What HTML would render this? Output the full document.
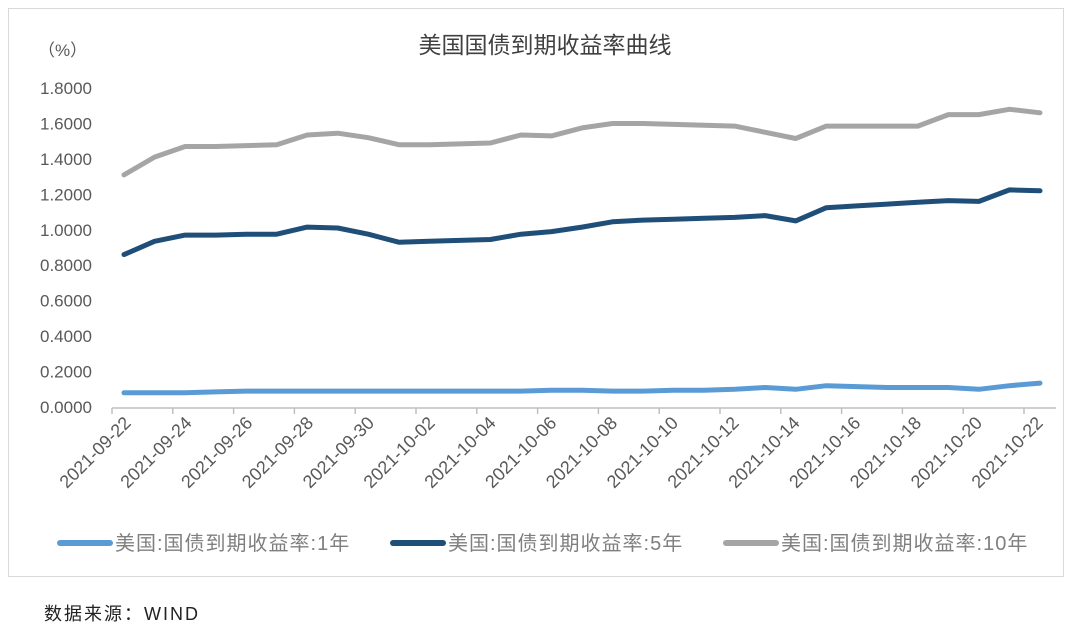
<!DOCTYPE html>
<html><head><meta charset="utf-8"><style>
body{margin:0;background:#fff;}
svg text{font-family:"Liberation Sans","Noto Sans CJK SC",sans-serif;}
</style></head><body>
<svg width="1080" height="627" viewBox="0 0 1080 627" xmlns="http://www.w3.org/2000/svg">
<rect x="8.5" y="8.5" width="1055" height="568" fill="#fff" stroke="#d9d9d9" stroke-width="1"/>
<text x="545" y="53" text-anchor="middle" font-size="23" fill="#404040" font-family="Noto Serif CJK SC, serif">美国国债到期收益率曲线</text>
<text x="38" y="56" font-size="17" fill="#595959">（%）</text>
<g font-size="17" fill="#595959" text-anchor="end" id="yl"></g>
<line x1="112" y1="408" x2="1056" y2="408" stroke="#bfbfbf" stroke-width="1.5"/>
<g id="ticks" stroke="#bfbfbf" stroke-width="1.5"></g>
<g id="xl" font-size="18" fill="#595959" text-anchor="end"></g>
<g id="lines" fill="none" stroke-width="5" stroke-linejoin="round" stroke-linecap="round"></g>
<g font-size="20" fill="#7f7f7f" letter-spacing="1" font-family="Noto Serif CJK SC, serif">
<line x1="60" y1="543" x2="110" y2="543" stroke="#5b9bd5" stroke-width="6" stroke-linecap="round"/>
<text x="115" y="550">美国:国债到期收益率:1年</text>
<line x1="393" y1="543" x2="443" y2="543" stroke="#1f4e79" stroke-width="6" stroke-linecap="round"/>
<text x="448" y="550">美国:国债到期收益率:5年</text>
<line x1="726" y1="543" x2="776" y2="543" stroke="#a5a5a5" stroke-width="6" stroke-linecap="round"/>
<text x="781" y="550">美国:国债到期收益率:10年</text>
</g>
<text x="44" y="620" font-size="18" fill="#222" font-family="Noto Sans CJK SC, sans-serif" letter-spacing="2">数据来源：WIND</text>
</svg>
<script>
const ns="http://www.w3.org/2000/svg";
function el(t,a,p,txt){const e=document.createElementNS(ns,t);for(const k in a)e.setAttribute(k,a[k]);if(txt)e.textContent=txt;document.getElementById(p).appendChild(e);}
const Y=v=>407-v*177.2;
for(let i=0;i<=9;i++){el('text',{x:92,y:Y(i*0.2)+6},'yl',(i*0.2).toFixed(4));}
for(let i=0;i<=15;i++){const x=112+60.8*i;el('line',{x1:x,y1:408,x2:x,y2:414},'ticks');}
const d0=new Date(2021,8,22);
for(let i=0;i<16;i++){const dt=new Date(d0.getTime()+i*2*864e5);const s=dt.getFullYear()+'-'+String(dt.getMonth()+1).padStart(2,'0')+'-'+String(dt.getDate()).padStart(2,'0');const x=132+60.8*i;el('text',{x:x,y:424,transform:`rotate(-45 ${x} 424)`},'xl',s);}
const s10=[1.31,1.41,1.47,1.47,1.475,1.48,1.535,1.545,1.52,1.48,1.48,1.485,1.49,1.535,1.53,1.575,1.60,1.60,1.595,1.59,1.585,1.55,1.515,1.585,1.585,1.585,1.585,1.65,1.65,1.68,1.66];
const s5=[0.86,0.935,0.97,0.97,0.975,0.975,1.015,1.01,0.975,0.93,0.935,0.94,0.945,0.975,0.99,1.015,1.045,1.055,1.06,1.065,1.07,1.08,1.05,1.125,1.135,1.145,1.155,1.165,1.16,1.225,1.22];
const s1=[0.08,0.08,0.08,0.085,0.09,0.09,0.09,0.09,0.09,0.09,0.09,0.09,0.09,0.09,0.095,0.095,0.09,0.09,0.095,0.095,0.10,0.11,0.10,0.12,0.115,0.11,0.11,0.11,0.10,0.12,0.135];
function path(s){const n=s.length;let p=[];for(let i=0;i<n;i++){const x=124+(1040-124)*i/(n-1);p.push((i?'L':'M')+x.toFixed(1)+' '+Y(s[i]).toFixed(1));}return p.join(' ');}
el('path',{d:path(s10),stroke:'#a5a5a5'},'lines');
el('path',{d:path(s5),stroke:'#1f4e79'},'lines');
el('path',{d:path(s1),stroke:'#5b9bd5'},'lines');
</script>
</body></html>
